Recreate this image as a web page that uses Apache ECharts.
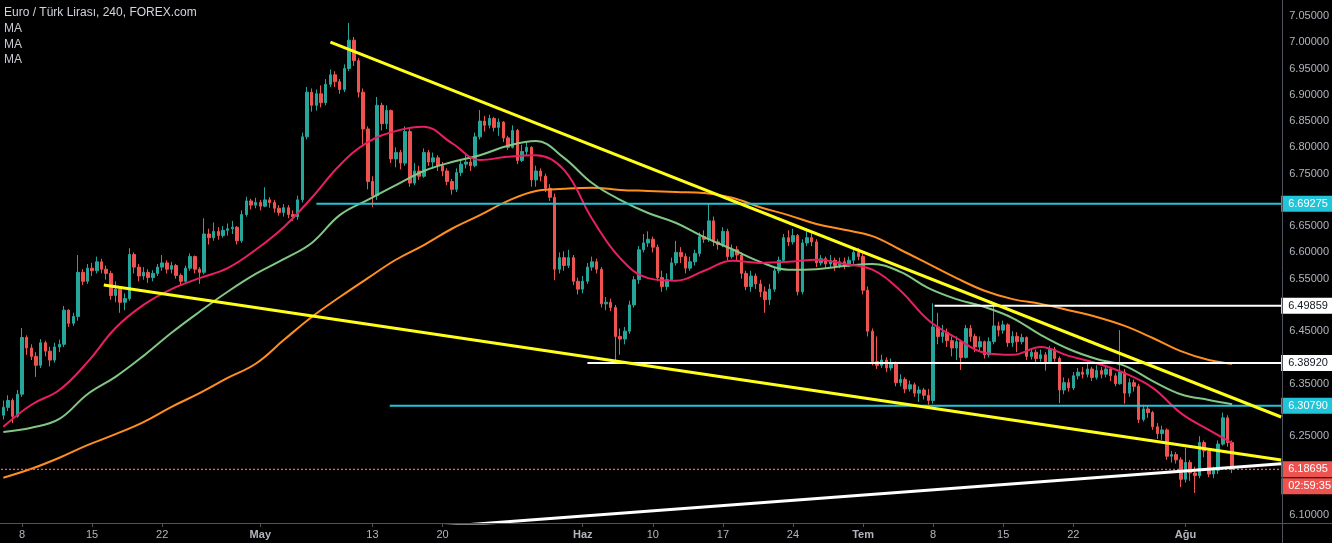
<!DOCTYPE html>
<html><head><meta charset="utf-8">
<script src="https://cdn.jsdelivr.net/npm/echarts@6/dist/echarts.min.js"></script>
<style>html,body{margin:0;padding:0;background:#000;}#c{width:1332px;height:543px;}</style>
</head><body><div id="c"></div>
<script>
// ---- DATA (EUR/TRY, 8h candles; open = previous close) ----
const firstOpen = 6.290;
const closes = [6.305,6.318,6.288,6.330,6.438,6.418,6.402,6.385,6.428,6.412,6.395,6.420,6.425,6.490,6.465,6.478,6.562,6.545,6.570,6.565,6.582,6.568,6.560,6.518,6.530,6.505,6.512,6.596,6.572,6.555,6.562,6.552,6.560,6.572,6.580,6.568,6.575,6.556,6.545,6.570,6.592,6.568,6.562,6.635,6.628,6.640,6.632,6.642,6.645,6.648,6.622,6.672,6.698,6.690,6.695,6.688,6.700,6.695,6.684,6.676,6.685,6.672,6.668,6.700,6.820,6.905,6.880,6.902,6.885,6.920,6.938,6.925,6.910,6.950,7.004,6.965,6.905,6.835,6.735,6.708,6.880,6.845,6.870,6.778,6.790,6.770,6.830,6.732,6.755,6.745,6.790,6.772,6.780,6.765,6.755,6.735,6.720,6.752,6.768,6.772,6.765,6.820,6.850,6.842,6.855,6.838,6.848,6.818,6.800,6.832,6.775,6.792,6.800,6.738,6.755,6.745,6.722,6.705,6.568,6.590,6.575,6.590,6.545,6.530,6.545,6.572,6.582,6.568,6.502,6.505,6.495,6.440,6.435,6.450,6.500,6.548,6.605,6.618,6.625,6.610,6.552,6.535,6.548,6.580,6.600,6.592,6.570,6.582,6.598,6.630,6.625,6.660,6.620,6.615,6.640,6.592,6.605,6.595,6.560,6.535,6.555,6.540,6.525,6.510,6.530,6.565,6.585,6.628,6.620,6.632,6.525,6.618,6.628,6.620,6.580,6.588,6.578,6.585,6.575,6.582,6.575,6.585,6.600,6.592,6.528,6.450,6.392,6.385,6.395,6.380,6.388,6.352,6.358,6.340,6.348,6.332,6.338,6.328,6.318,6.458,6.440,6.448,6.432,6.418,6.430,6.400,6.455,6.440,6.420,6.430,6.405,6.430,6.460,6.452,6.462,6.428,6.440,6.430,6.438,6.402,6.410,6.398,6.405,6.392,6.415,6.398,6.338,6.352,6.342,6.365,6.372,6.368,6.378,6.362,6.375,6.368,6.378,6.365,6.350,6.372,6.332,6.352,6.345,6.282,6.302,6.295,6.268,6.255,6.262,6.212,6.215,6.205,6.168,6.200,6.180,6.175,6.238,6.222,6.178,6.185,6.235,6.285,6.238,6.18695];
const highs = [6.318,6.328,6.322,6.338,6.456,6.442,6.425,6.410,6.435,6.432,6.420,6.428,6.434,6.498,6.492,6.485,6.595,6.568,6.578,6.580,6.592,6.588,6.575,6.565,6.545,6.535,6.522,6.608,6.600,6.578,6.572,6.568,6.566,6.578,6.595,6.585,6.582,6.578,6.560,6.575,6.598,6.594,6.572,6.665,6.645,6.657,6.648,6.650,6.655,6.660,6.650,6.680,6.706,6.702,6.704,6.700,6.724,6.705,6.700,6.690,6.692,6.690,6.680,6.708,6.828,6.915,6.912,6.910,6.918,6.930,6.948,6.945,6.930,6.958,7.037,7.010,6.970,6.912,6.840,6.745,6.896,6.885,6.880,6.872,6.800,6.795,6.840,6.835,6.770,6.765,6.798,6.795,6.790,6.785,6.772,6.760,6.740,6.760,6.778,6.785,6.780,6.828,6.871,6.860,6.862,6.858,6.855,6.850,6.822,6.842,6.835,6.805,6.812,6.802,6.765,6.760,6.750,6.730,6.712,6.600,6.602,6.605,6.595,6.552,6.555,6.580,6.592,6.588,6.572,6.515,6.512,6.500,6.455,6.458,6.508,6.555,6.612,6.635,6.640,6.630,6.615,6.565,6.560,6.590,6.622,6.610,6.598,6.592,6.605,6.638,6.642,6.694,6.668,6.625,6.648,6.645,6.615,6.612,6.600,6.565,6.565,6.560,6.548,6.535,6.540,6.572,6.592,6.635,6.642,6.645,6.635,6.625,6.645,6.638,6.625,6.595,6.592,6.595,6.590,6.590,6.590,6.592,6.608,6.608,6.598,6.535,6.455,6.440,6.405,6.400,6.398,6.392,6.368,6.362,6.356,6.352,6.345,6.342,6.340,6.503,6.485,6.462,6.455,6.440,6.440,6.432,6.462,6.462,6.445,6.440,6.432,6.438,6.500,6.468,6.470,6.465,6.450,6.448,6.445,6.440,6.418,6.415,6.415,6.410,6.422,6.420,6.402,6.362,6.360,6.372,6.380,6.382,6.388,6.382,6.385,6.382,6.386,6.382,6.370,6.452,6.378,6.360,6.358,6.350,6.310,6.308,6.298,6.275,6.270,6.265,6.222,6.220,6.210,6.228,6.205,6.192,6.250,6.242,6.225,6.192,6.242,6.295,6.290,6.242];
const lows = [6.282,6.298,6.275,6.285,6.325,6.405,6.395,6.363,6.380,6.402,6.383,6.390,6.410,6.420,6.458,6.460,6.470,6.538,6.540,6.555,6.560,6.560,6.548,6.510,6.505,6.485,6.490,6.508,6.560,6.545,6.548,6.542,6.545,6.555,6.565,6.560,6.560,6.550,6.538,6.540,6.565,6.560,6.540,6.558,6.615,6.622,6.624,6.628,6.632,6.635,6.615,6.618,6.668,6.682,6.684,6.680,6.686,6.685,6.676,6.670,6.668,6.665,6.660,6.662,6.695,6.815,6.868,6.870,6.876,6.880,6.915,6.915,6.902,6.905,6.945,6.955,6.895,6.805,6.720,6.686,6.700,6.832,6.835,6.770,6.762,6.758,6.765,6.725,6.728,6.738,6.742,6.765,6.760,6.755,6.745,6.728,6.710,6.715,6.745,6.760,6.755,6.762,6.815,6.830,6.836,6.830,6.822,6.810,6.795,6.798,6.768,6.772,6.785,6.725,6.725,6.735,6.715,6.698,6.547,6.560,6.565,6.570,6.538,6.520,6.522,6.540,6.565,6.560,6.495,6.490,6.488,6.392,6.405,6.425,6.445,6.495,6.540,6.600,6.610,6.600,6.545,6.525,6.528,6.545,6.575,6.580,6.560,6.565,6.575,6.592,6.618,6.620,6.612,6.605,6.610,6.585,6.588,6.585,6.550,6.528,6.525,6.530,6.515,6.485,6.500,6.525,6.560,6.580,6.612,6.615,6.518,6.520,6.612,6.612,6.572,6.575,6.570,6.572,6.565,6.570,6.568,6.572,6.578,6.585,6.520,6.440,6.385,6.378,6.380,6.372,6.375,6.345,6.345,6.332,6.335,6.325,6.315,6.320,6.310,6.312,6.425,6.428,6.420,6.402,6.395,6.376,6.398,6.430,6.410,6.412,6.398,6.400,6.425,6.440,6.445,6.420,6.420,6.410,6.425,6.395,6.396,6.390,6.392,6.375,6.388,6.392,6.313,6.330,6.335,6.338,6.358,6.360,6.362,6.355,6.358,6.360,6.362,6.355,6.345,6.348,6.312,6.325,6.335,6.275,6.278,6.285,6.262,6.245,6.243,6.205,6.200,6.198,6.153,6.162,6.165,6.142,6.170,6.210,6.172,6.170,6.178,6.232,6.230,6.180];

// moving averages, sampled every 6 candles (plus last candle)
const maSampleStep = 6;
const maRed = [6.268,6.310,6.338,6.391,6.456,6.500,6.530,6.551,6.570,6.605,6.648,6.704,6.766,6.810,6.831,6.839,6.808,6.776,6.782,6.785,6.757,6.664,6.589,6.551,6.546,6.565,6.584,6.580,6.582,6.586,6.578,6.567,6.527,6.471,6.437,6.409,6.405,6.420,6.403,6.389,6.370,6.342,6.294,6.262,6.237];
const maGreen = [6.258,6.266,6.283,6.330,6.363,6.403,6.447,6.487,6.525,6.559,6.587,6.618,6.671,6.700,6.728,6.755,6.772,6.785,6.803,6.812,6.780,6.732,6.700,6.675,6.656,6.629,6.606,6.582,6.567,6.568,6.574,6.578,6.563,6.532,6.511,6.496,6.475,6.443,6.416,6.397,6.384,6.355,6.330,6.319,6.311];
const maOrange = [6.171,6.188,6.209,6.233,6.254,6.277,6.306,6.332,6.361,6.388,6.433,6.477,6.515,6.551,6.586,6.614,6.645,6.671,6.698,6.717,6.721,6.723,6.719,6.717,6.715,6.713,6.704,6.686,6.671,6.654,6.643,6.631,6.605,6.578,6.551,6.527,6.511,6.502,6.490,6.477,6.460,6.437,6.412,6.395,6.388];

// horizontal levels: price, first candle index
const levelPrices = [6.69275, 6.49859, 6.38920, 6.30790];
const levelStarts = [67, 199.3, 125, 82.7];
const levelKinds = ['cyan', 'white', 'white', 'cyan'];

// trend lines: [candle index, price] end points
const trendUpper = [[70, 7.0005], [273.49, 6.2866]];
const trendLower = [[21.5, 6.538], [273.49, 6.2048]];
const trendSupport = [[85, 6.072], [273.49, 6.1975]];

const countdown = '02:59:35';
const titleText = 'Euro / Türk Lirası, 240, FOREX.com';
const maNames = ['MA', 'MA', 'MA'];

const xTickDays = ['2019-04-08','2019-04-15','2019-04-22','2019-05-01','2019-05-13','2019-05-20','2019-06-03','2019-06-10','2019-06-17','2019-06-24','2019-07-01','2019-07-08','2019-07-15','2019-07-22','2019-08-01'];
const xTickLabels = ['8','15','22','May','13','20','Haz','10','17','24','Tem','8','15','22','Ağu'];
const yTickValues = [6.10, 6.25, 6.35, 6.45, 6.55, 6.60, 6.65, 6.75, 6.80, 6.85, 6.90, 6.95, 7.00, 7.05];

// ---- BUILD ----
const TOTAL = 274; // candles + empty right margin
function pad(n){ return n < 10 ? '0' + n : '' + n; }
const cats = ['2019-04-04 16'];
let d = new Date(Date.UTC(2019, 3, 5));
while (cats.length < TOTAL) {
  const wd = d.getUTCDay();
  if (wd !== 0 && wd !== 6) {
    for (const h of [0, 8, 16]) {
      if (cats.length < TOTAL) cats.push(d.getUTCFullYear() + '-' + pad(d.getUTCMonth() + 1) + '-' + pad(d.getUTCDate()) + ' ' + pad(h));
    }
  }
  d.setUTCDate(d.getUTCDate() + 1);
}
const tickMap = {};
xTickDays.forEach((s, i) => { tickMap[s + ' 00'] = xTickLabels[i]; });

const candleData = closes.map((c, i) => {
  const o = i === 0 ? firstOpen : closes[i - 1];
  return [o, c, lows[i], highs[i]];
});
const maIdx = maRed.map((_, k) => k < maRed.length - 1 ? k * maSampleStep : closes.length - 1);
const maPairs = arr => arr.map((v, k) => [maIdx[k], v]);
const lastClose = closes[closes.length - 1];
const XMAX = TOTAL - 0.5;

const FONT = 'Liberation Sans';
const AXIS_C = '#50535e';
const TXT_C = '#b2b5be';
const CYAN = '#20c5da';

function tag(bg, fg, text, offsetY) {
  return {
    show: true, formatter: text, color: fg, backgroundColor: bg,
    padding: [3, 6, 2, 7], fontSize: 11, fontFamily: FONT,
    distance: 0, offset: [0, offsetY || 0], align: 'left', verticalAlign: 'middle'
  };
}

const series = [{
  type: 'candlestick', name: 'EURTRY', data: candleData, barWidth: 3, z: 2,
  itemStyle: { color: '#26a69a', color0: '#ef5350', borderColor: '#26a69a', borderColor0: '#ef5350', borderWidth: 1 }
}];
[[maOrange, '#ff8f1f'], [maGreen, '#81c784'], [maRed, '#e91e63']].forEach(([arr, col]) => {
  series.push({ type: 'line', xAxisIndex: 1, data: maPairs(arr), smooth: 0.4, showSymbol: false, silent: true, z: 3,
    lineStyle: { color: col, width: 2 } });
});
// current price line + tags
series.push({ type: 'line', xAxisIndex: 1, data: [[-0.5, lastClose], [XMAX - 0.01, lastClose]], showSymbol: false, silent: true, z: 4,
  lineStyle: { color: '#ff5a55', width: 1.2, type: [2, 2] }, endLabel: tag('#ef5350', '#ffffff', lastClose.toFixed(5), 0) });
series.push({ type: 'line', xAxisIndex: 1, data: [[-0.5, lastClose], [XMAX - 0.01, lastClose]], showSymbol: false, silent: true, z: 4,
  lineStyle: { opacity: 0 }, endLabel: tag('#ef5350', '#ffffff', countdown, 17) });
levelPrices.forEach((p, i) => {
  const cyan = levelKinds[i] === 'cyan';
  series.push({ type: 'line', xAxisIndex: 1, data: [[levelStarts[i], p], [XMAX - 0.01, p]], showSymbol: false, silent: true, z: 5,
    lineStyle: { color: cyan ? CYAN : '#ffffff', width: 2 },
    endLabel: tag(cyan ? CYAN : '#ffffff', cyan ? '#ffffff' : '#131722', p.toFixed(5), 0) });
});
[[trendUpper, '#ffff1a'], [trendLower, '#ffff1a'], [trendSupport, '#ffffff']].forEach(([pts, col]) => {
  series.push({ type: 'line', xAxisIndex: 1, data: pts, showSymbol: false, silent: true, z: 6,
    lineStyle: { color: col, width: 3 } });
});

const graphic = [
  { type: 'line', shape: { x1: 0, y1: 523.5, x2: 1332, y2: 523.5 }, style: { stroke: AXIS_C, lineWidth: 1 }, z: 10 },
  { type: 'line', shape: { x1: 1282.5, y1: 0, x2: 1282.5, y2: 543 }, style: { stroke: AXIS_C, lineWidth: 1 }, z: 10 },
  { type: 'text', style: { x: 4, y: 13, text: titleText, fill: '#d1d4dc', font: '12px "' + FONT + '"', verticalAlign: 'middle' }, z: 10 }
];
maNames.forEach((n, i) => {
  graphic.push({ type: 'text', style: { x: 4, y: 29 + i * 15.5, text: n, fill: '#c8cbd2', font: '12px "' + FONT + '"', verticalAlign: 'middle' }, z: 10 });
});

const chart = echarts.init(document.getElementById('c'), null, { renderer: 'canvas' });
chart.setOption({
  backgroundColor: '#000000',
  animation: false,
  grid: { left: 1, right: 50, top: 0, bottom: 20, containLabel: false },
  xAxis: [{
    type: 'category', data: cats, boundaryGap: true, gridIndex: 0,
    axisLine: { show: true, lineStyle: { color: AXIS_C } },
    axisTick: { show: true, alignWithLabel: true, interval: (i, v) => v in tickMap, length: 4, lineStyle: { color: AXIS_C } },
    axisLabel: {
      interval: (i, v) => v in tickMap, margin: 6, color: TXT_C, fontSize: 11, fontFamily: FONT,
      formatter: v => { const t = tickMap[v]; if (!t) return ''; return /^\d+$/.test(t) ? t : '{m|' + t + '}'; },
      rich: { m: { fontWeight: 'bold', color: TXT_C, fontSize: 11, fontFamily: FONT } }
    },
    splitLine: { show: false }
  }, {
    type: 'value', gridIndex: 0, min: -0.5, max: XMAX, show: false, splitLine: { show: false }
  }],
  yAxis: [{
    type: 'value', position: 'right', min: 6.0848, max: 7.0805, scale: true,
    axisLine: { show: false },
    splitLine: { show: false },
    axisTick: { show: false },
    axisLabel: { customValues: yTickValues, formatter: v => Number(v).toFixed(5), color: TXT_C, fontSize: 11, fontFamily: FONT, margin: 8 }
  }],
  graphic: graphic,
  series: series
});
</script>
</body></html>
